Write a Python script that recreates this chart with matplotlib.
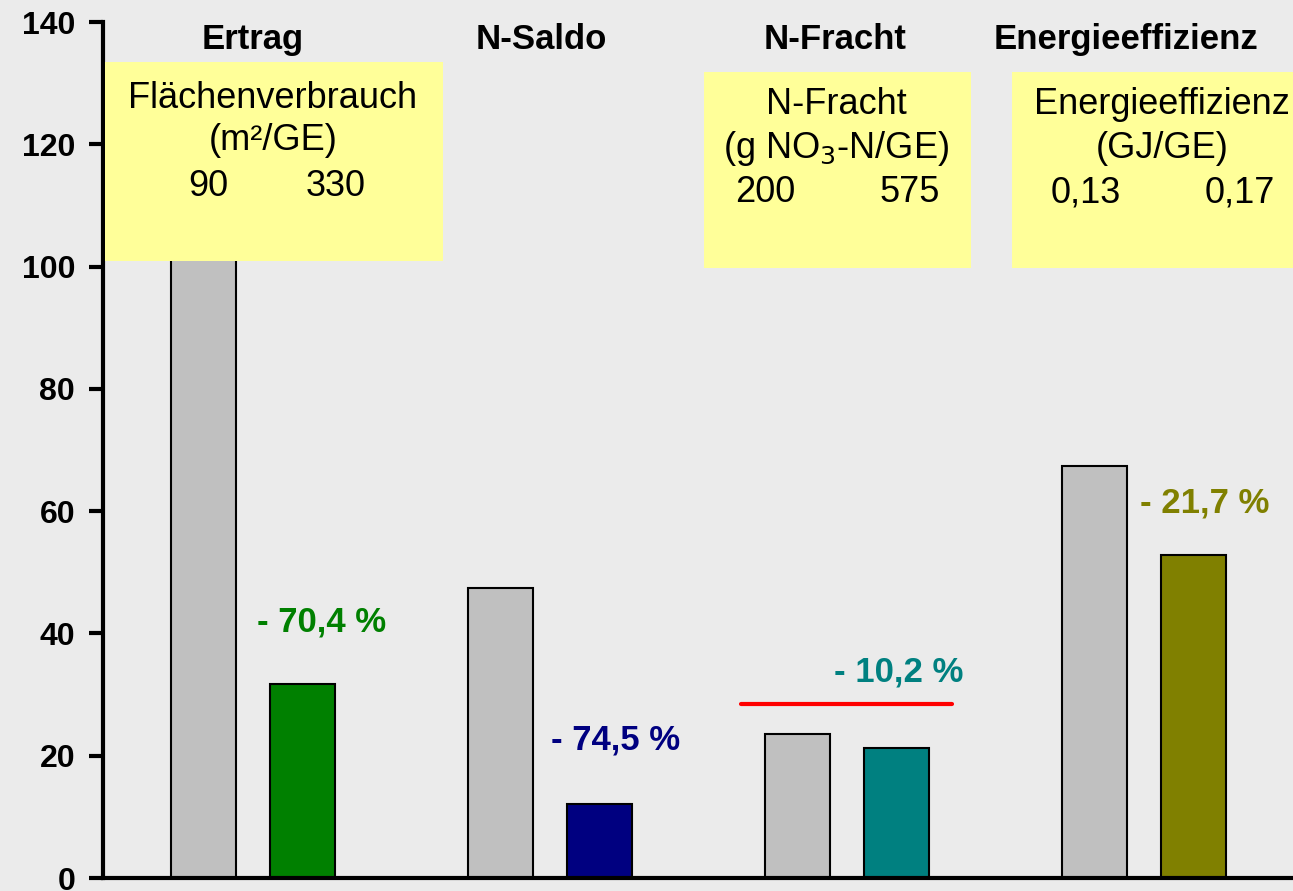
import matplotlib
matplotlib.use("Agg")
import matplotlib.pyplot as plt
from matplotlib.patches import Rectangle

plt.rcParams['font.family'] = ['Liberation Sans', 'DejaVu Sans']

categories = ["Ertrag", "N-Saldo", "N-Fracht", "Energieeffizienz"]
reference_values = [107, 47.4, 23.6, 67.4]
new_values = [31.7, 12.1, 21.3, 52.8]
change_labels = ["- 70,4 %", "- 74,5 %", "- 10,2 %", "- 21,7 %"]
new_colors = ["#008000", "#000080", "#008080", "#808000"]
y_ticks = [0, 20, 40, 60, 80, 100, 120, 140]
red_line_y = 28.5

W, H = 1293, 891
fig = plt.figure(figsize=(W / 100, H / 100), dpi=100)
bg = "#EBEBEB"
fig.patch.set_facecolor(bg)

ax_left, ax_right, ax_top, ax_bottom = 103, 1293, 22, 878
ax = fig.add_axes([ax_left / W, (H - ax_bottom) / H, (ax_right - ax_left) / W, (ax_bottom - ax_top) / H])
ax.set_facecolor(bg)

x = list(range(len(categories)))
off, bw = 0.168, 0.219
ax.bar([i - off for i in x], reference_values, width=bw, color="#C0C0C0", edgecolor="black", linewidth=1.5, zorder=2)
ax.bar([i + off for i in x], new_values, width=bw, color=new_colors, edgecolor="black", linewidth=1.5, zorder=2)

ax.set_xlim(-0.505, 3.502)
ax.set_ylim(0, 140)
ax.set_yticks(y_ticks)
ax.set_yticklabels([str(v) for v in y_ticks], fontsize=23, fontweight="bold")
ax.set_xticks([])
for s in ["top", "right"]:
    ax.spines[s].set_visible(False)
for s in ["left", "bottom"]:
    ax.spines[s].set_linewidth(3)
ax.tick_params(axis="y", length=10, width=3, pad=10)

# red line
ax.plot([1.643, 2.354], [red_line_y, red_line_y], color="red", lw=3, solid_capstyle="round", zorder=3)

# group titles
title_x = [0.0, 0.97, 1.96, 2.94]
for tx, t in zip(title_x, categories):
    ax.text(tx, 137.2, t, ha="center", va="center", fontsize=25, fontweight="bold", zorder=5)

# change labels
lab_pos = [(0.232, 41.9), (1.222, 22.6), (2.175, 33.7), (3.205, 61.3)]
for (lx, ly), t, c in zip(lab_pos, change_labels, new_colors):
    ax.text(lx, ly, t, ha="center", va="center", fontsize=25, fontweight="bold", color=c, zorder=5)

# yellow boxes (pixel positions -> figure fractions)
def fx(px):
    return px / W

def fy(py):
    return (H - py) / H

boxes = [(105, 62, 443, 261), (704, 72, 971, 268), (1012, 72, 1300, 268)]
for (x0, y0, x1, y1) in boxes:
    fig.patches.append(Rectangle((fx(x0), fy(y1)), fx(x1) - fx(x0), fy(y0) - fy(y1),
                                 transform=fig.transFigure, facecolor="#FFFF99", edgecolor="none", zorder=4))

box_texts = [
    (273, 98, "Flächenverbrauch"), (273, 141, "(m²/GE)"), (208, 186, "90"), (336, 186, "330"),
    (836, 104, "N-Fracht"), (836, 148, "(g NO$_3$-N/GE)"), (765, 193, "200"), (910, 193, "575"),
    (1162, 104, "Energieeffizienz"), (1162, 148, "(GJ/GE)"), (1086, 193, "0,13"), (1240, 193, "0,17"),
]
for px, py, t in box_texts:
    fig.text(fx(px), fy(py), t, ha="center", va="center", fontsize=26, zorder=6)

fig.savefig("out.png", dpi=100, facecolor=bg)
